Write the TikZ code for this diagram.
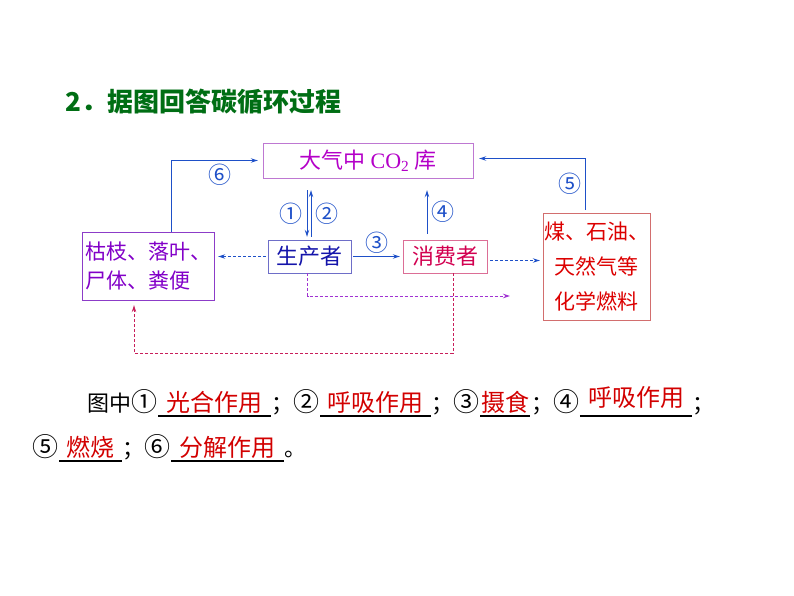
\documentclass[tikz,border=0pt]{standalone}
\usepackage{fontspec}
\setmainfont{Liberation Serif}
\newfontfamily\cjk{Noto Sans CJK SC}
\usetikzlibrary{arrows.meta,positioning,calc}

\definecolor{titlegreen}{RGB}{0,110,20}
\definecolor{flowblue}{RGB}{30,80,200}
\definecolor{co2text}{RGB}{180,0,200}
\definecolor{co2line}{RGB}{190,120,210}
\definecolor{prodtext}{RGB}{20,20,170}
\definecolor{prodline}{RGB}{110,110,200}
\definecolor{constext}{RGB}{210,0,80}
\definecolor{consline}{RGB}{220,110,150}
\definecolor{littext}{RGB}{130,0,200}
\definecolor{litline}{RGB}{140,60,200}
\definecolor{fueltext}{RGB}{220,0,0}
\definecolor{fuelline}{RGB}{210,110,110}
\definecolor{dashpurple}{RGB}{160,50,210}
\definecolor{dashcrimson}{RGB}{200,30,90}
\definecolor{ansred}{RGB}{210,0,0}

% circled step numbers, set larger than the text round them
\newcommand\ringnum[1]{{\fontsize{26}{22}\selectfont #1}}

\begin{document}
\begin{tikzpicture}[x=1pt, y=-1pt, >={Stealth[length=7pt,width=4.5pt]},
    box/.style={draw, inner sep=0pt, font=\cjk\fontsize{22}{35}\selectfont},
    flow/.style={->, draw=flowblue, line width=1pt},
    dashflow/.style={->, dash pattern=on 3pt off 2pt, line width=0.8pt},
    num/.style={text=flowblue, font=\cjk\fontsize{23}{23}\selectfont, inner sep=0pt},
    plain/.style={anchor=base west, inner xsep=0.5pt, inner ysep=0pt, font=\cjk\fontsize{22}{22}\selectfont},
    blank/.style={anchor=base west, inner sep=0pt, text=ansred, font=\cjk\fontsize{24}{24}\selectfont},
    uline/.style={line width=1.3pt}]

\useasboundingbox (0,0) rectangle (794,596);

% title
\node[anchor=base west, inner sep=0pt, text=titlegreen, font=\cjk\bfseries\fontsize{26}{26}\selectfont]
    (title) at (65,112) {2．据图回答碳循环过程};

% boxes
\node[box, draw=co2line, text=co2text, minimum width=210, minimum height=35]
    (co2) at (368,160.5) {\cjk 大气中 {\rmfamily CO\textsubscript{2}} 库};
\node[box, draw=prodline, text=prodtext, minimum width=83, minimum height=33]
    (prod) at (309.5,256.5) {生产者};
\node[box, draw=consline, text=constext, minimum width=84, minimum height=33]
    (cons) at (445,256.5) {消费者};
\node[box, draw=litline, text=littext, minimum width=132, minimum height=68, align=left,
    font=\cjk\fontsize{21}{29}\selectfont]
    (litter) at (148,266) {枯枝、落叶、\\尸体、粪便};
\node[box, draw=fuelline, text=fueltext, minimum width=107, minimum height=107, align=center,
    font=\cjk\fontsize{21}{35}\selectfont]
    (fuel) at (596.5,266.5) {煤、石油、\\天然气等\\化学燃料};

% carbon flows
\draw[flow] ($(litter.north)+(23,0)$) |- ($(co2.west)+(-5,0)$)
    node[num, pos=0.78, below=3pt] (n6) {⑥};
\draw[flow] ($(prod.north |- co2.south)+(-2.5,12)$) -- ($(prod.north)+(-2.5,-3)$)
    node[num, midway, left=4pt] (n1) {①};
\draw[flow] ($(prod.north)+(1.5,-3)$) -- ($(prod.north |- co2.south)+(1.5,12)$)
    node[num, midway, right=4pt] (n2) {②};
\draw[flow] ($(prod.east)+(2,0)$) -- ($(cons.west)+(-3,0)$)
    node[num, midway, above=3pt] (n3) {③};
\draw[flow] ($(cons.north)+(-18,-6)$) -- ($(cons.north |- co2.south)+(-18,12)$)
    node[num, midway, right=4pt] (n4) {④};
\draw[flow] ($(fuel.north)+(-11.5,-3)$) |- ($(co2.east)+(6,-2)$)
    node[num, pos=0.25, left=3pt] (n5) {⑤};

% dashed flows
\draw[dashflow, flowblue] ($(prod.west)+(-2,0)$) -- ($(prod.west -| litter.east)+(4,0)$);
\draw[dashflow, flowblue] ($(cons.east)+(3,4)$) -- ($(cons.east -| fuel.west)+(-3,4)$);
\coordinate (pend) at (510,296);
\draw[dashflow, dashpurple] ($(prod.south)+(-2,0)$) |- (pend);
\draw[dashflow, dashcrimson] ($(cons.south)+(8,0)$) |- ($(litter.south)+(-14,53)$)
    -- ($(litter.south)+(-14,5)$);

% answers, line 1
\node[plain] (s1) at (87,411) {图中\ringnum{①}};
\node[blank, minimum width=112] (b1) at (s1.base east) {光合作用};
\node[plain] (s2) at (b1.base east) {；\ringnum{②}};
\node[blank, minimum width=110] (b2) at (s2.base east) {呼吸作用};
\node[plain] (s3) at (b2.base east) {；\ringnum{③}};
\node[blank, minimum width=50] (b3) at (s3.base east) {摄食};
\node[plain] (s4) at (b3.base east) {；\ringnum{④}};
\node[blank, minimum width=112] (b4) at (s4.base east) {\raisebox{5pt}{呼吸作用}};
\node[plain] (s5) at (b4.base east) {；};

% answers, line 2
\node[plain] (s6) at (32,456) {\ringnum{⑤}};
\node[blank, minimum width=62] (b5) at (s6.base east) {燃烧};
\node[plain] (s7) at (b5.base east) {；\ringnum{⑥}};
\node[blank, minimum width=112] (b6) at (s7.base east) {分解作用};
\node[plain] (s8) at (b6.base east) {。};

\foreach \b in {b1,b2,b3,b4,b5,b6}
    \draw[uline] ([yshift=-5pt]\b.base west) -- ([yshift=-5pt]\b.base east);

\end{tikzpicture}
\end{document}
